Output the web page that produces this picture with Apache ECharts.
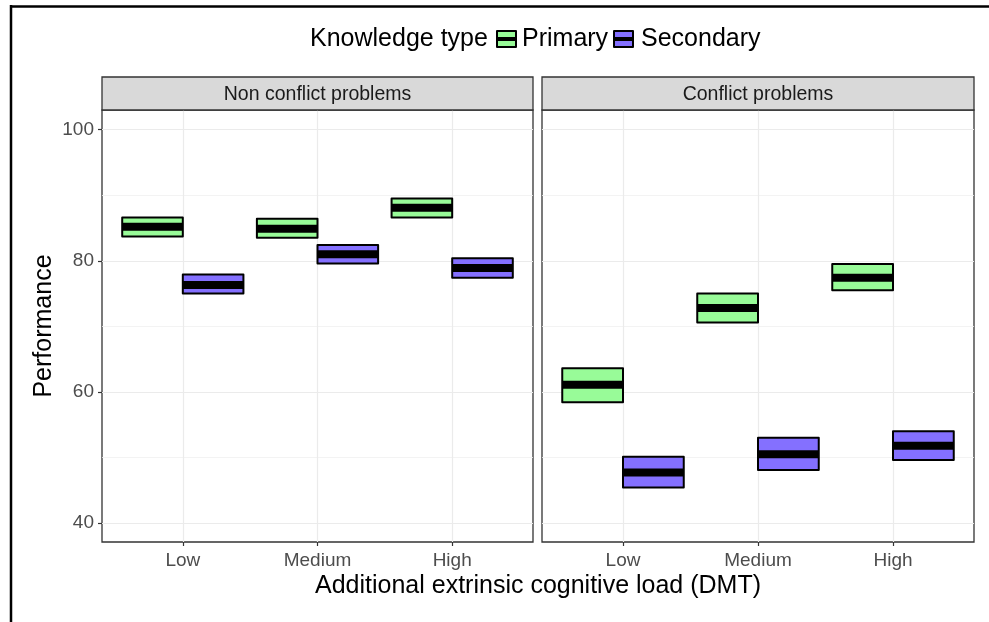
<!DOCTYPE html>
<html>
<head>
<meta charset="utf-8">
<script src="https://cdn.jsdelivr.net/npm/echarts@6/dist/echarts.min.js"></script>
<style>
  html, body { margin: 0; padding: 0; background: #fff; }
  #chart { width: 989px; height: 622px; }
</style>
</head>
<body>
<div id="chart"></div>
<script>
// ---------------- data ----------------
const categories = ['Low', 'Medium', 'High'];
const panelTitles = ['Non conflict problems', 'Conflict problems'];
const knowledgeTypes = ['Primary', 'Secondary'];
const yTicks = [40, 60, 80, 100];
const yMinorTicks = [50, 70, 90];
const xTicks = [1, 2, 3];
// each entry: [lower, mean, upper] for Low, Medium, High
const nonConflictPrimary   = [[83.7, 85.2, 86.6], [83.5, 84.9, 86.4], [86.6, 88.1, 89.5]];
const nonConflictSecondary = [[75.0, 76.3, 77.9], [79.6, 81.0, 82.4], [77.4, 78.9, 80.4]];
const conflictPrimary      = [[58.4, 61.1, 63.6], [70.6, 72.8, 75.0], [75.5, 77.4, 79.5]];
const conflictSecondary    = [[45.4, 47.7, 50.1], [48.1, 50.5, 53.0], [49.6, 51.8, 54.0]];

// ---------------- style / layout ----------------
const FONT = 'Liberation Sans, Arial, sans-serif';
const colors = { Primary: '#98FB98', Secondary: '#8470FF' };
const Y_MIN = 37.1, Y_MAX = 103.0;
const X_MIN = 0.4, X_MAX = 3.6;
const DODGE = 0.225, HALF_W = 0.225;
const panelsPx = [ { left: 102, right: 533 }, { left: 542, right: 974 } ];
const TOP = 110, BOTTOM = 542, STRIP_TOP = 77;
const W = 989, H = 622;
const gridColor = '#EBEBEB';

function toData(arr) { return arr.map((v, i) => [i + 1, v[0], v[1], v[2]]); }

function crossbar(offset, color) {
  return function (params, api) {
    const x = api.value(0) + offset;
    const lo = api.value(1), mid = api.value(2), hi = api.value(3);
    const pTL = api.coord([x - HALF_W, hi]);
    const pBR = api.coord([x + HALF_W, lo]);
    const pM = api.coord([x, mid]);
    return {
      type: 'group',
      children: [
        { type: 'rect',
          shape: { x: pTL[0], y: pTL[1], width: pBR[0] - pTL[0], height: pBR[1] - pTL[1] },
          style: { fill: color, stroke: '#000', lineWidth: 2, lineJoin: 'round' } },
        { type: 'line',
          shape: { x1: pTL[0], y1: pM[1], x2: pBR[0], y2: pM[1] },
          style: { stroke: '#000', lineWidth: 8, lineCap: 'butt' } }
      ]
    };
  };
}

const grids = panelsPx.map(p => ({
  left: p.left, right: W - p.right, top: TOP, bottom: H - BOTTOM,
  show: true, backgroundColor: '#fff', borderColor: '#333333', borderWidth: 1.3,
  containLabel: false
}));

const xAxes = panelsPx.map((p, i) => ({
  type: 'value', gridIndex: i, min: X_MIN, max: X_MAX,
  axisLine: { show: false },
  axisTick: { show: true, customValues: xTicks, length: 4, lineStyle: { color: '#333333', width: 1.2 } },
  axisLabel: { show: true, customValues: xTicks, formatter: v => categories[Math.round(v) - 1] || '',
               color: '#4D4D4D', fontSize: 19, fontFamily: FONT, margin: 9 },
  splitLine: { show: true, lineStyle: { color: gridColor, width: 1.2 } }
}));

const yAxes = [];
panelsPx.forEach((p, i) => {
  yAxes.push({
    type: 'value', gridIndex: i, min: Y_MIN, max: Y_MAX, position: 'left',
    axisLine: { show: false },
    axisTick: { show: i === 0, customValues: yTicks, length: 4, lineStyle: { color: '#333333', width: 1.2 } },
    axisLabel: { show: i === 0, customValues: yTicks, color: '#4D4D4D', fontSize: 19, fontFamily: FONT, margin: 8 },
    splitLine: { show: true, lineStyle: { color: gridColor, width: 1.2 } },
    name: i === 0 ? 'Performance' : '',
    nameLocation: 'middle', nameGap: 45, nameRotate: 90,
    nameTextStyle: { fontSize: 25, color: '#000', fontFamily: FONT }
  });
  yAxes.push({
    type: 'value', gridIndex: i, min: Y_MIN, max: Y_MAX, position: 'right',
    axisLine: { show: false },
    axisTick: { show: false, customValues: yMinorTicks },
    axisLabel: { show: false, customValues: yMinorTicks },
    splitLine: { show: true, lineStyle: { color: '#F0F0F0', width: 0.8 } }
  });
});

const seriesDefs = [
  { data: nonConflictPrimary,   type: 'Primary',   panel: 0, offset: -DODGE },
  { data: nonConflictSecondary, type: 'Secondary', panel: 0, offset: DODGE },
  { data: conflictPrimary,      type: 'Primary',   panel: 1, offset: -DODGE },
  { data: conflictSecondary,    type: 'Secondary', panel: 1, offset: DODGE }
];

const series = seriesDefs.map(s => ({
  type: 'custom', name: s.type,
  xAxisIndex: s.panel, yAxisIndex: s.panel * 2,
  renderItem: crossbar(s.offset, colors[s.type]),
  encode: { x: 0, y: [1, 2, 3] },
  data: toData(s.data),
  z: 5, silent: true
}));

// strips, legend, frame, x title
const graphic = [];
panelsPx.forEach((p, i) => {
  graphic.push({
    type: 'rect', shape: { x: p.left, y: STRIP_TOP, width: p.right - p.left, height: TOP - STRIP_TOP },
    style: { fill: '#D9D9D9', stroke: '#333333', lineWidth: 1.3 }, z: 10
  });
  graphic.push({
    type: 'text', x: (p.left + p.right) / 2, y: (STRIP_TOP + TOP) / 2 + 1,
    style: { text: panelTitles[i], fill: '#1A1A1A', font: '19.5px ' + FONT, textAlign: 'center', textVerticalAlign: 'middle' }, z: 11
  });
});
graphic.push({
  type: 'text', x: (panelsPx[0].left + panelsPx[1].right) / 2, y: 586,
  style: { text: 'Additional extrinsic cognitive load (DMT)', fill: '#000', font: '25px ' + FONT, textAlign: 'center', textVerticalAlign: 'middle' }
});
// legend
const legendY = 39;
graphic.push({ type: 'text', x: 310, y: legendY,
  style: { text: 'Knowledge type', fill: '#000', font: '25px ' + FONT, textAlign: 'left', textVerticalAlign: 'middle' } });
const legendItems = [ { name: 'Primary', keyX: 497, textX: 522 }, { name: 'Secondary', keyX: 614, textX: 641 } ];
legendItems.forEach(li => {
  graphic.push({ type: 'rect', shape: { x: li.keyX, y: legendY - 8, width: 19, height: 16 },
    style: { fill: colors[li.name], stroke: '#000', lineWidth: 2, lineJoin: 'round' } });
  graphic.push({ type: 'line', shape: { x1: li.keyX, y1: legendY, x2: li.keyX + 19, y2: legendY },
    style: { stroke: '#000', lineWidth: 4 } });
  graphic.push({ type: 'text', x: li.textX, y: legendY,
    style: { text: li.name, fill: '#000', font: '25px ' + FONT, textAlign: 'left', textVerticalAlign: 'middle' } });
});
// outer frame (left and top edges)
graphic.push({ type: 'line', shape: { x1: 11, y1: 5, x2: 11, y2: H }, style: { stroke: '#000', lineWidth: 2.5 } });
graphic.push({ type: 'line', shape: { x1: 10, y1: 6.5, x2: W, y2: 6.5 }, style: { stroke: '#000', lineWidth: 2.5 } });

const chart = echarts.init(document.getElementById('chart'), null, { renderer: 'canvas' });
chart.setOption({
  animation: false,
  backgroundColor: '#fff',
  textStyle: { fontFamily: FONT },
  grid: grids,
  xAxis: xAxes,
  yAxis: yAxes,
  series: series,
  graphic: graphic
});
</script>
</body>
</html>
